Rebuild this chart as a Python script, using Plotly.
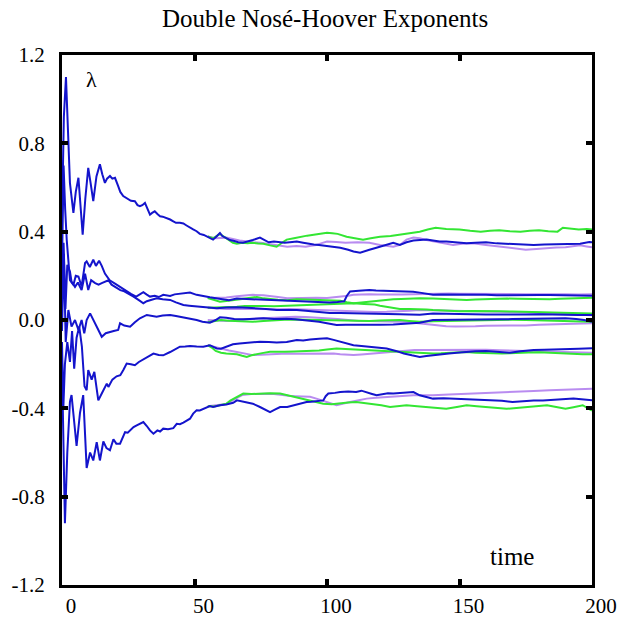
import plotly.graph_objects as go

# Time grid labels and axis ticks
x_ticks = [0, 50, 100, 150, 200]
x_tick_labels = ["0", "50", "100", "150", "200"]
y_ticks = [-1.2, -0.8, -0.4, 0.0, 0.4, 0.8, 1.2]
y_tick_labels = ["-1.2", "-0.8", "-0.4", "0.0", "0.4", "0.8", "1.2"]

# Running Lyapunov exponents, (time, lambda) pairs
blue_1 = [(0, 0.45), (0.7, 0.92), (1.5, 1.10), (2.4, 0.77), (3, 0.62), (4.3, 0.485), (5.2, 0.58), (6.2, 0.644),
          (7, 0.5), (7.8, 0.386), (8.8, 0.55), (9.9, 0.689), (10.8, 0.62), (11.8, 0.538), (13, 0.65), (14.3, 0.705),
          (15.2, 0.66), (16.2, 0.621), (17, 0.64), (18.1, 0.652), (19, 0.64), (20, 0.644), (21.2, 0.606), (22, 0.58),
          (23.1, 0.561), (24, 0.555), (25, 0.545), (26, 0.54), (27.5, 0.538), (28.5, 0.52), (29.4, 0.515),
          (30.3, 0.52), (31.3, 0.53), (32.3, 0.5), (33.2, 0.477), (34, 0.485), (35, 0.492), (36, 0.48), (37, 0.47),
          (38, 0.468), (39.5, 0.462), (40.8, 0.455), (42, 0.447), (43, 0.44), (44.5, 0.44), (45.8, 0.437),
          (47, 0.428), (48.3, 0.417), (49.5, 0.41), (50.8, 0.402), (52, 0.39), (53.5, 0.385), (54.6, 0.379),
          (56, 0.372), (57, 0.364), (58, 0.375), (59.6, 0.394), (60.5, 0.38), (62, 0.371), (63.4, 0.362),
          (65, 0.358), (66.5, 0.352), (68.3, 0.35), (70, 0.355), (72, 0.362), (74.7, 0.373), (76.5, 0.36),
          (78, 0.352), (80, 0.355), (82, 0.352), (84, 0.35), (86, 0.352), (88.6, 0.355), (91, 0.35), (93, 0.345),
          (95, 0.342), (97, 0.34), (100, 0.335), (103, 0.33), (105, 0.327), (108, 0.318), (110, 0.31),
          (112.5, 0.305), (114, 0.312), (116, 0.318), (118, 0.325), (120, 0.332), (122.5, 0.34), (125, 0.35),
          (127.5, 0.34), (130, 0.352), (132.6, 0.36), (135, 0.362), (137.6, 0.364), (140, 0.36), (142.5, 0.356),
          (145, 0.356), (148, 0.352), (150, 0.35), (152.7, 0.348), (156, 0.35), (160, 0.352), (164, 0.347),
          (169, 0.344), (173, 0.342), (178, 0.34), (182, 0.342), (187, 0.344), (191, 0.343), (195.5, 0.345),
          (199, 0.353), (200, 0.352)]

blue_2 = [(0, 0.25), (0.6, 0.7), (1.2, 0.5), (1.8, 0.36), (3, 0.18), (4.3, 0.159), (5.2, 0.2), (6.2, 0.197),
          (7.4, 0.152), (8.7, 0.258), (9.3, 0.265), (10.5, 0.24), (11.8, 0.273), (12.8, 0.245), (14, 0.268),
          (15, 0.245), (16.2, 0.21), (18, 0.18), (20, 0.165), (22, 0.15), (24.4, 0.129), (26, 0.118), (28, 0.106),
          (29.5, 0.118), (30.7, 0.126), (32, 0.115), (33.2, 0.106), (35, 0.11), (36.5, 0.104), (38.2, 0.114),
          (40.8, 0.109), (42.5, 0.116), (44.5, 0.118), (46.5, 0.12), (48.3, 0.124), (50.8, 0.114), (53, 0.108),
          (55.8, 0.103), (57.5, 0.1), (59.6, 0.096), (61, 0.092), (63, 0.09), (66, 0.097), (68, 0.096),
          (71, 0.094), (74, 0.092), (76, 0.091), (79, 0.089), (82, 0.087), (85, 0.085), (88.6, 0.083),
          (91, 0.082), (94.8, 0.08), (98, 0.08), (101, 0.079), (104, 0.081), (106.5, 0.085), (107.5, 0.11),
          (108.7, 0.129), (112, 0.132), (114, 0.135), (116, 0.136), (118.5, 0.134), (121, 0.133), (125, 0.129),
          (130, 0.127), (132.5, 0.128), (135, 0.124), (137.5, 0.118), (140, 0.114), (143, 0.116), (146, 0.116),
          (149, 0.114), (152, 0.115), (156, 0.113), (160, 0.114), (164, 0.112), (168, 0.113), (172, 0.112),
          (176, 0.114), (180, 0.113), (184, 0.113), (188, 0.112), (192, 0.112), (196, 0.111), (200, 0.11)]

blue_3 = [(0, 0.1), (0.6, 0.35), (1.3, 0.05), (2, 0.25), (3, 0.22), (3.6, 0.174), (4.9, 0.15), (6, 0.17),
          (7.4, 0.136), (8.7, 0.21), (9.9, 0.136), (11, 0.18), (12.5, 0.167), (13.8, 0.16), (15, 0.167),
          (16.2, 0.175), (17.5, 0.18), (18.7, 0.16), (20, 0.15), (22, 0.135), (23.5, 0.13), (25, 0.121),
          (27, 0.106), (29, 0.09), (30.7, 0.076), (32, 0.085), (33.5, 0.09), (35.7, 0.098), (38, 0.094),
          (40.8, 0.091), (43, 0.08), (45.8, 0.068), (48, 0.065), (50.8, 0.061), (54, 0.057), (58.4, 0.053),
          (62, 0.057), (66, 0.058), (70, 0.055), (73.5, 0.053), (77, 0.05), (81, 0.045), (85, 0.046),
          (88.6, 0.045), (92, 0.042), (96, 0.038), (101, 0.032), (105, 0.032), (110, 0.03), (115, 0.03),
          (120, 0.028), (124, 0.027), (127.5, 0.026), (131, 0.025), (135, 0.024), (140, 0.03), (145, 0.028),
          (150, 0.027), (155, 0.026), (160, 0.025), (165, 0.025), (170, 0.024), (175, 0.025), (180, 0.026),
          (185, 0.024), (190, 0.023), (195, 0.023), (200, 0.023)]

blue_4 = [(0, -0.05), (0.7, 0.3), (1.4, -0.1), (2.4, 0.045), (3.6, -0.03), (4.9, 0.0), (6.2, -0.045),
          (7.4, 0.0), (8.4, -0.06), (9.3, 0.0), (10.6, 0.03), (11.8, 0.0), (13.1, -0.03), (15, -0.076),
          (16.5, -0.06), (18.1, -0.053), (19.5, -0.05), (21.2, -0.045), (21.9, -0.015), (23.5, -0.025),
          (25.7, -0.03), (27.5, -0.01), (29.4, 0.008), (32, 0.023), (34, 0.018), (35.7, 0.015), (38, 0.02),
          (40.8, 0.023), (43, 0.018), (45.8, 0.012), (48, 0.006), (50.8, 0.0), (53, -0.008), (55.8, -0.012),
          (58, 0.0), (59.6, 0.012), (62, 0.01), (65, 0.005), (68.4, 0.003), (72, 0.006), (76, 0.008),
          (80, 0.005), (84.8, 0.006), (88, 0.003), (91, 0.0), (94, -0.004), (97, -0.008), (100, -0.015),
          (103.6, -0.023), (107, -0.022), (110, -0.022), (113, -0.024), (116, -0.023), (120, -0.021),
          (125, -0.02), (130, -0.015), (135, -0.012), (140, 0.0), (145, 0.0), (150, 0.002), (155, 0.0),
          (160, 0.0), (165, 0.003), (170, 0.004), (175, 0.005), (180, 0.006), (185, 0.007), (190, 0.008),
          (194, 0.004), (197, 0.0), (200, -0.008)]

blue_5 = [(0, -0.1), (0.5, -0.4), (1.1, -0.2), (2, -0.1), (3, -0.19), (3.8, -0.05), (4.6, -0.22), (5.5, -0.08),
          (6.5, -0.03), (7.5, -0.12), (8.5, -0.3), (9.3, -0.318), (9.9, -0.227), (11.2, -0.27), (12.2, -0.235),
          (13.7, -0.364), (15, -0.333), (16.2, -0.3), (16.9, -0.288), (17.5, -0.303), (19, -0.27), (20.6, -0.255),
          (22, -0.25), (23.2, -0.225), (24.4, -0.197), (26, -0.2), (27.5, -0.205), (29, -0.19), (30.7, -0.178),
          (32.5, -0.165), (34.5, -0.152), (36.5, -0.158), (38.2, -0.16), (40.8, -0.145), (42.5, -0.135),
          (44.5, -0.121), (46.5, -0.12), (48.3, -0.118), (50.8, -0.12), (53.3, -0.121), (55.8, -0.114),
          (58.4, -0.129), (60, -0.13), (62, -0.12), (64.5, -0.11), (67, -0.106), (70, -0.104), (72, -0.102),
          (74.7, -0.098), (78, -0.1), (81, -0.102), (84.8, -0.1), (88.6, -0.091), (91, -0.093), (93.6, -0.088),
          (97, -0.085), (100, -0.083), (102.5, -0.09), (105, -0.098), (107.5, -0.105), (110, -0.114),
          (113, -0.118), (116, -0.121), (119, -0.124), (122.5, -0.129), (126, -0.14), (129, -0.152),
          (132, -0.16), (135, -0.167), (137.5, -0.163), (140, -0.159), (143, -0.155), (146, -0.152),
          (149, -0.148), (152.7, -0.144), (156, -0.142), (160, -0.14), (164, -0.144), (169, -0.148),
          (173, -0.142), (178, -0.136), (182, -0.135), (187, -0.132), (191, -0.131), (195, -0.13), (200, -0.128)]

blue_6 = [(0, -0.2), (0.5, -0.6), (1.1, -0.92), (2, -0.6), (3, -0.37), (3.6, -0.34), (4.9, -0.5), (5.5, -0.57),
          (6.8, -0.42), (8, -0.34), (9.3, -0.67), (10.6, -0.6), (11.8, -0.636), (13.1, -0.553), (14.3, -0.636),
          (15.6, -0.55), (16.8, -0.58), (18.1, -0.59), (19.4, -0.54), (20.5, -0.56), (21.9, -0.56),
          (23, -0.53), (23.8, -0.508), (24.8, -0.51), (25.7, -0.5), (27, -0.485), (28.2, -0.477), (29.5, -0.47),
          (30.7, -0.462), (32, -0.48), (33.2, -0.5), (34.5, -0.515), (36, -0.5), (37, -0.505), (38.2, -0.492),
          (40, -0.495), (42, -0.49), (43.3, -0.47), (44.5, -0.472), (45.8, -0.465), (47, -0.455),
          (48.3, -0.447), (49.5, -0.424), (50.8, -0.409), (52, -0.41), (54, -0.4), (55.8, -0.39), (57, -0.394),
          (59.6, -0.386), (62, -0.383), (64.6, -0.375), (66, -0.364), (68, -0.368), (69.7, -0.371), (72, -0.379),
          (74.7, -0.394), (76.5, -0.405), (78.5, -0.417), (80.5, -0.405), (82.3, -0.394), (85, -0.394),
          (87.5, -0.385), (89.8, -0.379), (92.3, -0.371), (94, -0.37), (96, -0.368), (98.6, -0.364),
          (99.5, -0.345), (100.5, -0.333), (103, -0.33), (105, -0.326), (108, -0.324), (111, -0.326),
          (113, -0.32), (115, -0.326), (117, -0.335), (118.7, -0.341), (121, -0.336), (123, -0.332),
          (125, -0.333), (128, -0.33), (130, -0.328), (132.6, -0.326), (135, -0.341), (137.5, -0.35),
          (140, -0.356), (144, -0.354), (147.6, -0.356), (151, -0.358), (155, -0.361), (159, -0.36),
          (162.6, -0.364), (166, -0.366), (170, -0.371), (174, -0.366), (178, -0.364), (181.5, -0.364),
          (185.4, -0.361), (189, -0.36), (193, -0.356), (197, -0.36), (200, -0.364)]

green_1 = [(55, 0.378), (57, 0.37), (59.6, 0.39), (62, 0.37), (64.5, 0.35), (66, 0.345), (68, 0.35), (70, 0.348),
           (72, 0.35), (74, 0.346), (76, 0.345), (78.5, 0.338), (81, 0.332), (83, 0.35), (84.8, 0.364),
           (87.5, 0.37), (90, 0.377), (92.5, 0.382), (95, 0.386), (97.5, 0.39), (100, 0.395), (102, 0.393),
           (104, 0.39), (107.4, 0.377), (110, 0.372), (113.6, 0.364), (116.5, 0.37), (120, 0.377), (124, 0.38),
           (127.5, 0.386), (131, 0.392), (135, 0.4), (138, 0.41), (141, 0.418), (145, 0.412), (150, 0.41),
           (154, 0.404), (158, 0.4), (161.5, 0.404), (165, 0.406), (169, 0.402), (173, 0.4), (176.5, 0.404),
           (180, 0.406), (183.5, 0.402), (187, 0.4), (189, 0.418), (192, 0.414), (195, 0.41), (198, 0.412),
           (200, 0.41)]

purple_1 = [(55, 0.378), (58, 0.37), (62, 0.373), (64.5, 0.365), (67, 0.36), (70, 0.356), (72, 0.352),
            (75, 0.35), (78, 0.345), (81.5, 0.338), (85, 0.332), (88.5, 0.335), (92, 0.332), (94, 0.336),
            (96, 0.34), (98, 0.348), (100, 0.355), (103.5, 0.353), (107, 0.35), (111.5, 0.352), (116, 0.35),
            (120, 0.34), (125, 0.332), (127.5, 0.34), (130, 0.364), (132.6, 0.373), (135, 0.37), (137.5, 0.362),
            (140, 0.356), (144, 0.348), (147.6, 0.34), (151, 0.345), (155, 0.348), (160, 0.34), (165, 0.333),
            (170, 0.326), (175, 0.318), (179, 0.322), (183, 0.326), (186.5, 0.328), (190, 0.329),
            (195.5, 0.338), (198, 0.333), (200, 0.329)]

green_2 = [(55, 0.1), (57.5, 0.09), (59.6, 0.083), (62, 0.086), (65, 0.09), (68, 0.096), (70, 0.1),
           (73.5, 0.104), (76, 0.098), (78, 0.095), (81.5, 0.092), (85, 0.09), (88.5, 0.094), (92, 0.093),
           (96, 0.091), (100, 0.09), (103, 0.088), (105, 0.087), (107.5, 0.08), (110, 0.076), (113, 0.079),
           (116, 0.083), (119, 0.088), (122.5, 0.091), (125, 0.094), (128, 0.095), (131.5, 0.097), (135, 0.098),
           (140, 0.097), (146, 0.094), (149, 0.093), (152.7, 0.091), (156, 0.093), (160, 0.095), (164, 0.096),
           (168, 0.097), (172, 0.096), (176, 0.095), (180, 0.094), (184, 0.094), (188, 0.096), (192, 0.098),
           (196, 0.099), (200, 0.101)]

purple_2 = [(55, 0.1), (58, 0.1), (62, 0.102), (66, 0.108), (69, 0.112), (72, 0.114), (76, 0.112), (78, 0.11),
            (81.5, 0.104), (85, 0.098), (88.5, 0.1), (92, 0.1), (96, 0.101), (100, 0.1), (103, 0.103),
            (106, 0.105), (108, 0.11), (110, 0.114), (113, 0.116), (116, 0.117), (119, 0.116), (122.5, 0.114),
            (125, 0.115), (128, 0.116), (131.5, 0.117), (135, 0.118), (140, 0.12), (143, 0.121), (146, 0.12),
            (150, 0.119), (155, 0.118), (160, 0.118), (165, 0.119), (170, 0.118), (175, 0.117), (180, 0.117),
            (185, 0.118), (190, 0.117), (195, 0.116), (200, 0.117)]

green_3 = [(55, 0.055), (57.5, 0.056), (60, 0.055), (63, 0.058), (66, 0.06), (69, 0.063), (72, 0.064),
           (76, 0.063), (80, 0.062), (84, 0.064), (88, 0.066), (92.5, 0.067), (97, 0.068), (100, 0.07),
           (103, 0.072), (106.5, 0.074), (110, 0.076), (114, 0.073), (118, 0.07), (120, 0.065), (124, 0.056),
           (127.5, 0.05), (131, 0.05), (135, 0.05), (137.5, 0.047), (140, 0.045), (145, 0.042), (150, 0.04),
           (155, 0.041), (160, 0.042), (165, 0.04), (170, 0.038), (175, 0.037), (180, 0.036), (185, 0.035),
           (190, 0.034), (195, 0.032), (200, 0.03)]

purple_3 = [(55, 0.055), (58.5, 0.052), (62, 0.05), (66, 0.051), (70, 0.05), (74, 0.048), (78, 0.047),
            (82, 0.049), (86, 0.05), (90.5, 0.048), (95, 0.045), (99, 0.042), (103, 0.04), (106.5, 0.039),
            (110, 0.038), (114, 0.037), (118, 0.036), (122.5, 0.037), (127, 0.038), (131, 0.042), (135, 0.045),
            (140, 0.044), (145, 0.042), (150, 0.041), (155, 0.04), (160, 0.039), (165, 0.038), (170, 0.037),
            (175, 0.035), (180, 0.033), (185, 0.03), (190, 0.028), (195, 0.025), (200, 0.022)]

green_4 = [(55, -0.01), (57.5, -0.004), (60, 0.0), (63, -0.003), (66, -0.005), (69, -0.007), (72, -0.008),
           (76, -0.004), (80, 0.0), (84, 0.001), (88, 0.002), (92.5, 0.001), (97, 0.0), (100.5, -0.002),
           (104, -0.003), (108, -0.004), (112, -0.005), (116, -0.004), (120, -0.002), (124, -0.001),
           (127.5, 0.0), (131, -0.004), (135, -0.008), (140, -0.006), (145, -0.005), (150, -0.003),
           (155, 0.0), (160, 0.001), (165, 0.002), (170, 0.001), (175, 0.0), (180, -0.001), (185, -0.003),
           (190, -0.004), (195, -0.005), (200, -0.008)]

purple_4 = [(55, 0.0), (58.5, -0.003), (62, -0.005), (66, 0.0), (70, 0.005), (75, 0.008), (80, 0.01),
            (84, 0.013), (88, 0.015), (92, 0.014), (96, 0.012), (100, 0.008), (104, 0.005), (108, 0.0),
            (112, -0.005), (116, -0.005), (120, -0.005), (123.5, -0.006), (127, -0.008), (131, -0.01),
            (135, -0.015), (140, -0.022), (145, -0.028), (148.5, -0.029), (152, -0.03), (156, -0.028),
            (160, -0.026), (165, -0.026), (170, -0.027), (175, -0.025), (180, -0.022), (185, -0.02),
            (190, -0.018), (195, -0.016), (200, -0.015)]

green_5 = [(55, -0.114), (56.5, -0.125), (58, -0.14), (60, -0.148), (62, -0.152), (64, -0.153), (66, -0.155),
           (68, -0.162), (69.7, -0.167), (71.5, -0.16), (73, -0.155), (75.5, -0.15), (78.5, -0.144),
           (81, -0.145), (84, -0.144), (87.5, -0.143), (91, -0.142), (94, -0.14), (97, -0.138), (100, -0.134),
           (103.6, -0.129), (107, -0.131), (110, -0.133), (113, -0.135), (116, -0.136), (119, -0.138),
           (122.5, -0.14), (126, -0.142), (129, -0.144), (132, -0.146), (135, -0.147), (137.5, -0.15),
           (140, -0.152), (143, -0.151), (146, -0.149), (149, -0.147), (152.7, -0.145), (156, -0.148),
           (160, -0.15), (163, -0.151), (166, -0.152), (169, -0.15), (172, -0.148), (176, -0.147),
           (180, -0.146), (183.5, -0.148), (187, -0.15), (190, -0.153), (193, -0.155), (196.5, -0.155),
           (200, -0.155)]

purple_5 = [(55, -0.114), (57.5, -0.122), (60, -0.13), (63, -0.138), (66, -0.145), (69, -0.152), (72, -0.159),
            (75, -0.157), (78, -0.155), (81.5, -0.154), (85, -0.152), (88.5, -0.153), (92, -0.152),
            (96, -0.151), (100, -0.15), (102.5, -0.152), (105, -0.155), (107.5, -0.157), (110, -0.159),
            (113, -0.156), (116, -0.153), (119, -0.148), (122.5, -0.144), (125, -0.142), (127, -0.14),
            (130, -0.138), (133, -0.136), (136.5, -0.136), (140, -0.136), (143, -0.135), (146, -0.136),
            (150, -0.134), (155, -0.133), (160, -0.135), (165, -0.137), (170, -0.138), (175, -0.14),
            (180, -0.141), (185, -0.142), (189, -0.144), (193, -0.146), (196.5, -0.147), (200, -0.148)]

green_6 = [(55, -0.39), (57.5, -0.392), (60, -0.385), (62, -0.379), (63.5, -0.365), (65, -0.355),
           (66.7, -0.342), (68.4, -0.333), (71.5, -0.335), (74.7, -0.333), (78.5, -0.332), (82.3, -0.333),
           (84.8, -0.34), (87.3, -0.348), (90.5, -0.356), (93.6, -0.364), (96, -0.372), (98.6, -0.379),
           (101.8, -0.381), (105, -0.379), (108, -0.374), (111, -0.371), (114, -0.375), (117.5, -0.379),
           (120.5, -0.386), (123.8, -0.394), (127, -0.39), (130, -0.386), (134, -0.39), (137.6, -0.394),
           (141, -0.398), (145, -0.402), (149, -0.394), (152.7, -0.386), (156.5, -0.39), (160, -0.394),
           (164, -0.398), (167.8, -0.402), (171.5, -0.398), (175, -0.394), (179, -0.39), (183, -0.386),
           (186.5, -0.394), (190, -0.402), (193, -0.395), (196.5, -0.386), (198.5, -0.4), (200, -0.41)]

purple_6 = [(55, -0.39), (58.5, -0.385), (62, -0.38), (65, -0.36), (68, -0.34), (71.5, -0.335),
            (74.7, -0.333), (77.5, -0.334), (80, -0.335), (83.3, -0.341), (85.5, -0.343), (88, -0.345),
            (91, -0.346), (93.6, -0.348), (96, -0.356), (98.6, -0.365), (101, -0.376), (103.6, -0.386),
            (106, -0.378), (108.7, -0.371), (112, -0.363), (115, -0.356), (118.5, -0.352), (122.5, -0.348),
            (127.5, -0.345), (132.6, -0.341), (136, -0.341), (140, -0.341), (146, -0.337), (152.7, -0.333),
            (159, -0.33), (165, -0.326), (171.5, -0.323), (178, -0.321), (184, -0.318), (190, -0.315),
            (195, -0.313), (200, -0.311)]

blue_series = [blue_1, blue_2, blue_3, blue_4, blue_5, blue_6]
green_series = [green_1, green_2, green_3, green_4, green_5, green_6]
purple_series = [purple_1, purple_2, purple_3, purple_4, purple_5, purple_6]

BLUE = "#1414cc"
GREEN = "#33e633"
PURPLE = "#b98cf0"
SERIF = "Liberation Serif, Times New Roman, serif"

fig = go.Figure()


def add_lines(group, color):
    for pts in group:
        fig.add_trace(go.Scatter(
            x=[p[0] for p in pts], y=[p[1] for p in pts],
            mode="lines", line=dict(color=color, width=2),
            hoverinfo="skip", showlegend=False,
        ))


add_lines(purple_series, PURPLE)
add_lines(green_series, GREEN)
add_lines(blue_series, BLUE)

axis_common = dict(
    showline=True, linecolor="black", linewidth=3, mirror="ticks",
    ticks="inside", ticklen=6, tickwidth=4, tickcolor="black",
    showgrid=False, zeroline=False, automargin=False,
    tickfont=dict(family=SERIF, size=21, color="black"),
)

fig.update_xaxes(range=[0, 200], tickvals=x_ticks, ticktext=x_tick_labels,
                 ticklabelshift=9, ticklabelstandoff=0, **axis_common)
fig.update_yaxes(range=[-1.2, 1.2], tickvals=y_ticks, ticktext=y_tick_labels,
                 ticklabelstandoff=10, **axis_common)

fig.update_layout(
    width=618, height=620,
    margin=dict(l=62, r=26, t=55, b=35, autoexpand=False),
    paper_bgcolor="white", plot_bgcolor="white",
    title=dict(text="Double Nosé-Hoover Exponents", x=0.526, xanchor="center",
               y=1 - 18 / 620, yanchor="middle",
               font=dict(family=SERIF, size=25, color="black")),
    annotations=[
        dict(text="λ", x=0.0566, y=0.953, xref="paper", yref="paper",
             xanchor="center", yanchor="middle",
             showarrow=False, font=dict(family=SERIF, size=22, color="black")),
        dict(text="time", x=0.849, y=0.053, xref="paper", yref="paper",
             xanchor="center", yanchor="middle",
             showarrow=False, font=dict(family=SERIF, size=25, color="black")),
    ],
)

fig.write_html("out.html")
